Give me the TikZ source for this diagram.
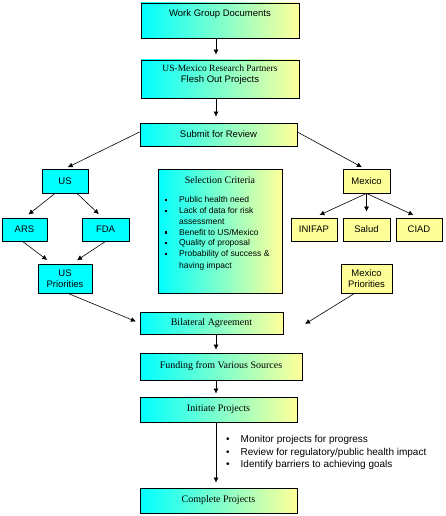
\documentclass[tikz,border=0pt]{standalone}
\usepackage{fontspec}
\setmainfont{Liberation Sans}
\newfontfamily\timesfont{Liberation Serif}
\usetikzlibrary{arrows.meta}
\definecolor{paleyellow}{RGB}{255,255,153}
\definecolor{aqua}{RGB}{0,255,255}
\newcommand{\sqbullet}{\rule[1.5pt]{2.5pt}{2.5pt}}

\begin{document}
\begin{tikzpicture}[x=1pt, y=-1pt,
    every node/.style={font=\fontsize{9.5}{11}\selectfont},
    box/.style={draw, line width=0.8pt, inner sep=1pt, align=center},
    gradbox/.style={box, left color=aqua, right color=paleyellow},
    usbox/.style={box, fill=aqua},
    mxbox/.style={box, fill=paleyellow},
    romantext/.style={font=\timesfont\fontsize{10}{11.5}\selectfont},
    arr/.style={-{Latex[length=5pt,width=5pt]}, line width=0.6pt, shorten >=3pt}]
  \useasboundingbox (0,0) rectangle (446,516);
  \coordinate (spine) at (216,0);

  % Draw the main column of boxes
  \node[gradbox, minimum width=158pt, minimum height=35pt, text depth=15pt] (docs) at (220,20.5) {Work Group Documents};
  \node[gradbox, minimum width=158pt, minimum height=38pt, text depth=10pt] (partners) at (220,79) {{\timesfont US-Mexico Research Partners}\\Flesh Out Projects};
  \node[gradbox, minimum width=157pt, minimum height=23pt] (submit) at (218.5,134.5) {Submit for Review};
  \node[gradbox, romantext, minimum width=143pt, minimum height=22pt] (bilateral) at (211.5,323) {Bilateral Agreement};
  \node[gradbox, romantext, minimum width=162pt, minimum height=27pt] (funding) at (221,366.5) {Funding from Various Sources};
  \node[gradbox, romantext, minimum width=157pt, minimum height=25pt] (initiate) at (218.5,409.5) {Initiate Projects};
  \node[gradbox, romantext, minimum width=157pt, minimum height=25pt] (complete) at (218.5,500.5) {Complete Projects};

  % Draw the US side
  \node[usbox, minimum width=46pt, minimum height=24pt] (us) at (65,181) {US};
  \node[usbox, minimum width=45pt, minimum height=23pt] (ars) at (24.5,229.5) {ARS};
  \node[usbox, minimum width=47pt, minimum height=23pt] (fda) at (105.5,229.5) {FDA};
  \node[usbox, minimum width=54pt, minimum height=29pt] (uspri) at (65,278.5) {US\\Priorities};

  % Draw the Mexico side
  \node[mxbox, minimum width=47pt, minimum height=24pt] (mexico) at (366.5,181) {Mexico};
  \node[mxbox, minimum width=46pt, minimum height=23pt] (inifap) at (314,229.5) {INIFAP};
  \node[mxbox, minimum width=47pt, minimum height=23pt] (salud) at (366.5,229.5) {Salud};
  \node[mxbox, minimum width=46pt, minimum height=23pt] (ciad) at (419,229.5) {CIAD};
  \node[mxbox, minimum width=51pt, minimum height=29pt] (mxpri) at (366.5,278.5) {Mexico\\Priorities};

  % Draw the criteria box in the middle
  \node[gradbox, minimum width=124pt, minimum height=124pt] (criteria) at (220,231) {};
  \node[romantext] (crittitle) at (220,180) {Selection Criteria};
  \node[anchor=north west, inner sep=0pt, font=\fontsize{8.5}{10.8}\selectfont] (critlist) at (164.5,195)
    {\begin{tabular}{@{}l@{\hspace{12pt}}l@{}}
      \sqbullet & Public health need\\
      \sqbullet & Lack of data for risk\\
                & assessment\\
      \sqbullet & Benefit to US/Mexico\\
      \sqbullet & Quality of proposal\\
      \sqbullet & Probability of success \&\\[1pt]
                & having impact
    \end{tabular}};

  % Draw the notes between Initiate and Complete
  \node[anchor=west, inner sep=0pt, font=\fontsize{10}{12.5}\selectfont] (notes) at (226,452.5)
    {\begin{tabular}{@{}l@{\hspace{11pt}}l@{}}
      \textbullet & Monitor projects for progress\\
      \textbullet & Review for regulatory/public health impact\\
      \textbullet & Identify barriers to achieving goals
    \end{tabular}};

  % Draw the arrows down the spine
  \draw[arr, shorten >=5pt] (docs.south -| spine) -- (partners.north -| spine);
  \draw[arr, shorten >=6pt] (partners.south -| spine) -- (submit.north -| spine);
  \draw[arr] (bilateral.south -| spine) -- (funding.north -| spine);
  \draw[arr] (funding.south -| spine) -- (initiate.north -| spine);
  \draw[arr, shorten >=5pt] (initiate.south -| spine) -- (complete.north -| spine);

  % Draw the arrows that split and join
  \draw[arr] ([yshift=2.5pt]submit.west) -- (us.north);
  \draw[arr] ([yshift=2.5pt]submit.east) -- ([xshift=-2pt]mexico.north);
  \draw[arr, shorten >=5pt] ([xshift=-10pt]us.south) -- (ars.north);
  \draw[arr, shorten >=5pt] ([xshift=12pt]us.south) -- ([xshift=-3pt]fda.north);
  \draw[arr, shorten >=6pt] ([xshift=-2pt]ars.south) -- ([xshift=-13pt]uspri.north);
  \draw[arr, shorten >=6pt] (fda.south) -- ([xshift=7pt]uspri.north);
  \draw[arr, shorten >=6pt] (mexico.south) -- (inifap.north);
  \draw[arr, shorten >=6pt] (mexico.south) -- (salud.north);
  \draw[arr, shorten >=6pt] (mexico.south) -- (ciad.north);
  \draw[arr, shorten >=4pt] ([xshift=3pt]uspri.south) -- (bilateral.west);
  \draw[arr, shorten >=2pt] ([xshift=-12pt]mxpri.south) -- ([xshift=20pt,yshift=-2pt]bilateral.east);
\end{tikzpicture}
\end{document}
